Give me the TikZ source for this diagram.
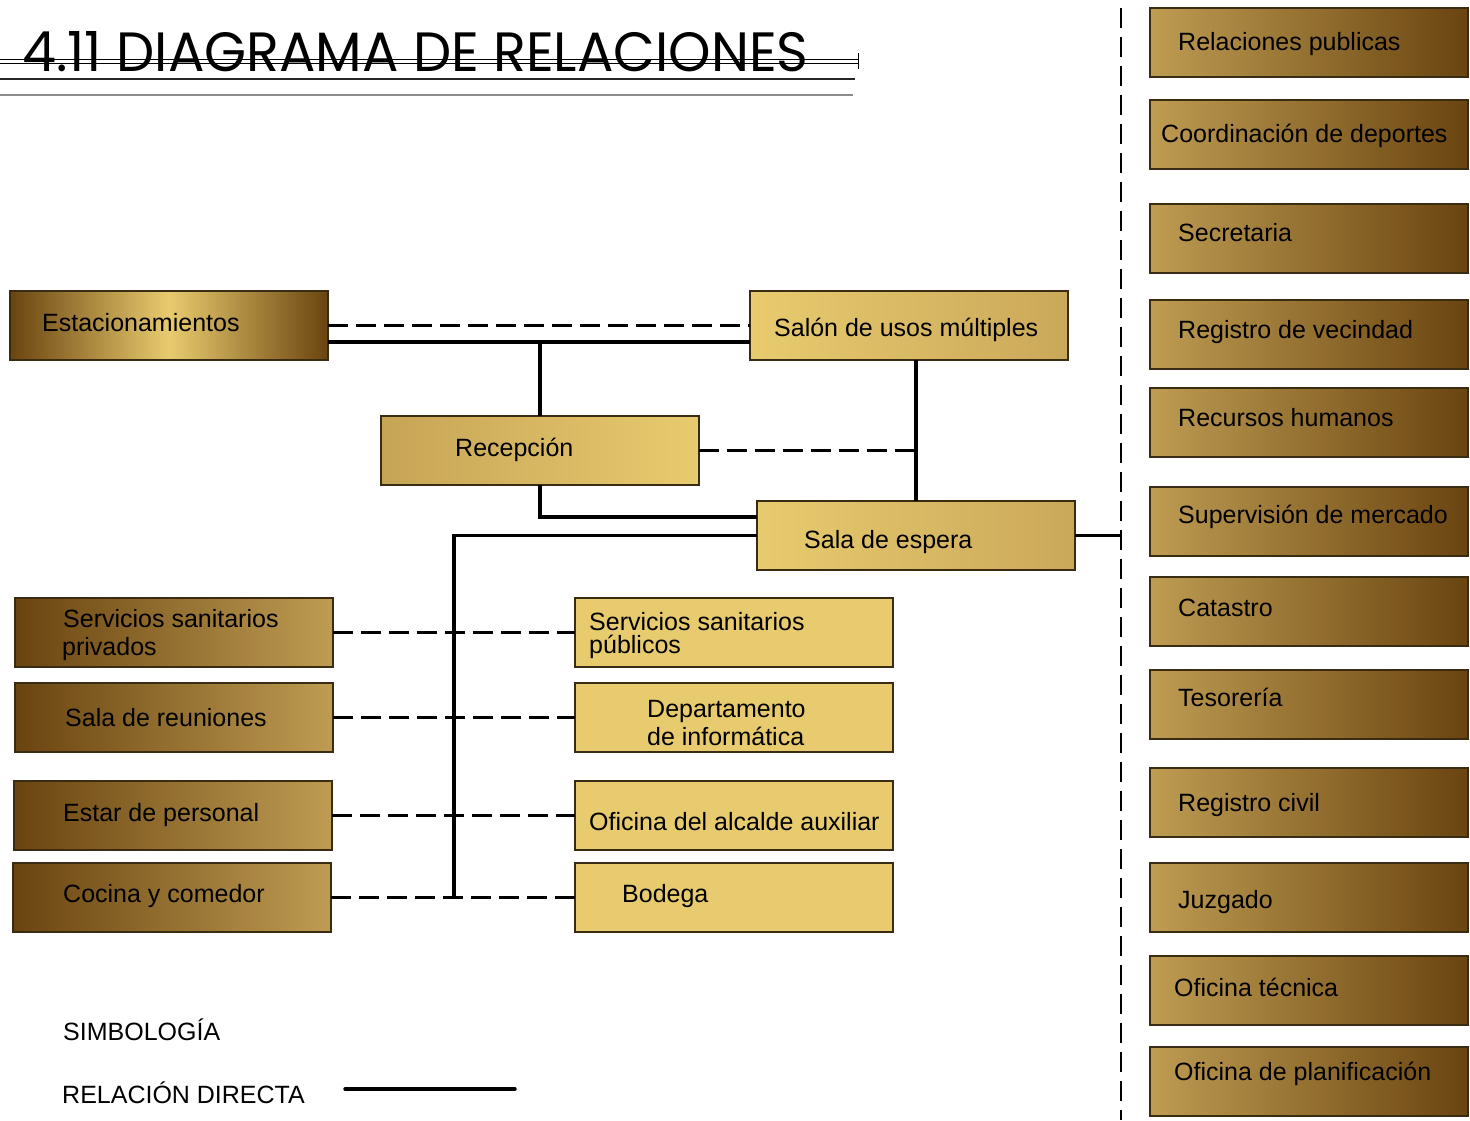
\documentclass[tikz,border=0pt]{standalone}
\usepackage{fontspec}
\setmainfont{Liberation Sans}
\newfontfamily\titlefont{Poppins}
\usetikzlibrary{calc}
\definecolor{dkb}{HTML}{6A4410}
\definecolor{ltb}{HTML}{BE9C52}
\definecolor{gold}{HTML}{E8CB6E}
\definecolor{goldd}{HTML}{CAA85A}
\definecolor{goldm}{HTML}{C6A456}
\definecolor{edgec}{HTML}{3A2C12}
\begin{document}
\begin{tikzpicture}[x=1pt,y=-1pt,
  box/.style={draw=edgec, line width=1.2pt, rectangle, anchor=north west, inner sep=0pt, outer sep=0pt, minimum width=318pt, minimum height=69pt},
  rbox/.style={box, left color=ltb, right color=dkb},
  lbox/.style={box, left color=dkb, right color=ltb},
  mbox/.style={box, fill=gold},
  lbl/.style={anchor=base west, inner sep=0pt, font=\fontsize{25}{28}\selectfont},
  leg/.style={anchor=base west, inner sep=0pt, font=\fontsize{25}{28}\selectfont},
  rel/.style={line width=3.4pt},
  nrel/.style={line width=2.2pt, dash pattern=on 20pt off 8pt},
  divl/.style={line width=2.2pt, dash pattern=on 20pt off 9pt}]
\useasboundingbox (0,0) rectangle (1470,1120);
\fill[white] (0,0) rectangle (1470,1120);

% title
\node[anchor=south west, inner sep=0pt] (title) at (22,72) {\resizebox{786pt}{40pt}{\titlefont 4.11 DIAGRAMA DE RELACIONES}};
\coordinate (tl1) at (0,59); \coordinate (tr1) at (858,59);
\coordinate (tl2) at (0,63); \coordinate (tr2) at (858,63);
\coordinate (tk1) at (858,53); \coordinate (tk2) at (858,69);
\coordinate (tl3) at (0,79); \coordinate (tr3) at (855,79);
\coordinate (tl4) at (0,95); \coordinate (tr4) at (853,95);
\draw[line width=0.8pt] (tl1) -- (tr1);
\draw[line width=0.8pt] (tl2) -- (tr2);
\draw[line width=0.8pt] (tk1) -- (tk2);
\draw[line width=2pt, black!85] (tl3) -- (tr3);
\draw[line width=2pt, black!45] (tl4) -- (tr4);

% central boxes
\node[box, left color=dkb, right color=dkb, middle color=gold] (est) at (10,291) {};
\node[box, left color=gold, right color=goldd] (salon) at (750,291) {};
\node[box, left color=goldm, right color=gold] (rec) at (381,416) {};
\node[box, left color=gold, right color=goldd] (sala) at (757,501) {};

% left column
\node[lbox] (ssp) at (15,598) {};
\node[lbox] (reu) at (15,683) {};
\node[lbox] (estar) at (14,781) {};
\node[lbox] (coc) at (13,863) {};

% middle column
\node[mbox] (ssu) at (575,598) {};
\node[mbox] (dep) at (575,683) {};
\node[mbox] (ofa) at (575,781) {};
\node[mbox] (bod) at (575,863) {};

% right column
\node[rbox] (r1) at (1150,8) {};
\node[rbox] (r2) at (1150,100) {};
\node[rbox] (r3) at (1150,204) {};
\node[rbox] (r4) at (1150,300) {};
\node[rbox] (r5) at (1150,388) {};
\node[rbox] (r6) at (1150,487) {};
\node[rbox] (r7) at (1150,577) {};
\node[rbox] (r8) at (1150,670) {};
\node[rbox] (r9) at (1150,768) {};
\node[rbox] (r10) at (1150,863) {};
\node[rbox] (r11) at (1150,956) {};
\node[rbox] (r12) at (1150,1047) {};

% texts
\node[lbl] (testa) at (42,331) {Estacionamientos};
\node[lbl] (tsalon) at (774,336) {Salón de usos múltiples};
\node[lbl] (trec) at (455,456) {Recepción};
\node[lbl] (tsala) at (804,548) {Sala de espera};
\node[lbl] (tssp1) at (63,627) {Servicios sanitarios};
\node[lbl] (tssp2) at (62,655) {privados};
\node[lbl] (treu) at (65,726) {Sala de reuniones};
\node[lbl] (testar) at (63,821) {Estar de personal};
\node[lbl] (tcoc) at (63,902) {Cocina y comedor};
\node[lbl] (tssu1) at (589,630) {Servicios sanitarios};
\node[lbl] (tssu2) at (589,653) {públicos};
\node[lbl] (tdep1) at (647,717) {Departamento};
\node[lbl] (tdep2) at (647,745) {de informática};
\node[lbl] (tofa) at (589,830) {Oficina del alcalde auxiliar};
\node[lbl] (tbod) at (622,902) {Bodega};

\node[lbl] (tr1) at (1178,50) {Relaciones publicas};
\node[lbl] (tr2) at (1161,142) {Coordinación de deportes};
\node[lbl] (tr3) at (1178,241) {Secretaria};
\node[lbl] (tr4) at (1178,338) {Registro de vecindad};
\node[lbl] (tr5) at (1178,426) {Recursos humanos};
\node[lbl] (tr6) at (1178,523) {Supervisión de mercado};
\node[lbl] (tr7) at (1178,616) {Catastro};
\node[lbl] (tr8) at (1178,706) {Tesorería};
\node[lbl] (tr9) at (1178,811) {Registro civil};
\node[lbl] (tr10) at (1178,908) {Juzgado};
\node[lbl] (tr11) at (1174,996) {Oficina técnica};
\node[lbl] (tr12) at (1174,1080) {Oficina de planificación};

% divider
\coordinate (dtop) at (1121,8);
\coordinate (dbot) at (1121,1120);
\draw[divl] (dtop) -- (dbot);

% connectors
\coordinate (a1) at ($(est.south east)+(0,-18)$);
\coordinate (a2) at ($(salon.south west)+(0,-18)$);
\draw[nrel] (est.east) -- (salon.west);
\draw[rel] (a1) -- (a2);
\draw[rel] (rec.north) -- (rec.north |- a1);
\draw[rel] (sala.north) -- (sala.north |- salon.south);
\draw[nrel] (rec.east) -- (rec.east -| sala.north);
\coordinate (b1) at ($(sala.north west)+(0,16)$);
\draw[rel] (rec.south) |- (b1);
\coordinate (trunk) at (454,0);
\draw[rel] (sala.west) -| (trunk |- coc.east);
\draw[nrel] (ssp.east) -- (ssu.west);
\draw[nrel] (reu.east) -- (dep.west);
\draw[nrel] (estar.east) -- (ofa.west);
\draw[nrel] (coc.east) -- (bod.west);
\draw[rel] (sala.east) -- (sala.east -| dtop);

% legend
\node[leg] (simb) at (63,1040) {SIMBOLOGÍA};
\node[leg] (reld) at (62,1103) {RELACIÓN DIRECTA};
\coordinate (lg1) at (345,1089);
\coordinate (lg2) at (515,1089);
\draw[rel, line cap=round] (lg1) -- (lg2);
\end{tikzpicture}
\end{document}
